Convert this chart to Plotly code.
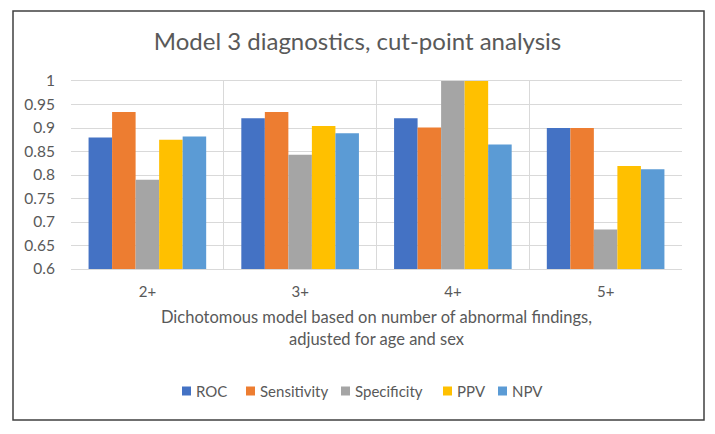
import plotly.graph_objects as go

categories = ["2+", "3+", "4+", "5+"]
roc = [0.880, 0.921, 0.921, 0.900]
sensitivity = [0.934, 0.934, 0.901, 0.900]
specificity = [0.790, 0.843, 1.000, 0.684]
ppv = [0.875, 0.904, 1.000, 0.819]
npv = [0.882, 0.889, 0.865, 0.812]
y_ticks = [0.6, 0.65, 0.7, 0.75, 0.8, 0.85, 0.9, 0.95, 1]
y_tick_labels = ["0.6", "0.65", "0.7", "0.75", "0.8", "0.85", "0.9", "0.95", "1"]

series_names = ["ROC", "Sensitivity", "Specificity", "PPV", "NPV"]
series_values = [roc, sensitivity, specificity, ppv, npv]
series_colors = ["#4472C4", "#ED7D31", "#A5A5A5", "#FFC000", "#5B9BD5"]

FONT = "Lato, Open Sans, sans-serif"
GRAY = "#595959"
# plot-area geometry in pixels (for layout helpers)
L, R, T, B = 71, 682, 81, 269
PW, PH = R - L, B - T


def px_x(px):
    return (px - L) / PW


def px_y(py):
    return (B - py) / PH


fig = go.Figure()
for name, vals, color in zip(series_names, series_values, series_colors):
    fig.add_trace(go.Bar(name=name, x=categories, y=vals, showlegend=False,
                         marker=dict(color=color, line=dict(width=0))))

# manual legend (Excel-style: small square then label)
legend_left_px = [182, 246, 341, 443, 498]
legend_y_px = 391
shapes = [dict(type="rect", xref="paper", yref="paper",
               x0=px_x(13), x1=px_x(704), y0=px_y(420), y1=px_y(11),
               line=dict(color="#404040", width=1.5), fillcolor="rgba(0,0,0,0)", layer="below")]
annotations = []
for name, color, lx in zip(series_names, series_colors, legend_left_px):
    shapes.append(dict(type="rect", xref="paper", yref="paper",
                       x0=px_x(lx), x1=px_x(lx + 9), y0=px_y(legend_y_px + 4.5), y1=px_y(legend_y_px - 4.5),
                       line=dict(width=0), fillcolor=color))
    annotations.append(dict(text=name, xref="paper", yref="paper", x=px_x(lx + 12), y=px_y(legend_y_px),
                            xanchor="left", yanchor="middle", showarrow=False,
                            font=dict(size=15, color=GRAY, family=FONT)))

fig.update_layout(
    width=715, height=434,
    barmode="group", bargap=0.23, bargroupgap=0,
    paper_bgcolor="white", plot_bgcolor="white",
    margin=dict(l=L, r=715 - R, t=T, b=434 - B, autoexpand=False),
    font=dict(family=FONT, color=GRAY, size=15),
    showlegend=False,
    title=dict(text="Model 3 diagnostics, cut-point analysis", x=0.5, xanchor="center",
               y=1 - 42 / 434, yanchor="middle", font=dict(size=24, color=GRAY, family=FONT)),
    xaxis=dict(
        automargin=False,
        tickson="boundaries", showgrid=True, gridcolor="#D9D9D9", gridwidth=1,
        showline=True, linecolor="#D9D9D9", linewidth=1, mirror=True,
        ticks="", tickfont=dict(size=15, color=GRAY), ticklabelstandoff=9,
        title=dict(text="Dichotomous model based on number of abnormal findings,<br>adjusted for age and sex",
                   font=dict(size=16.5, color=GRAY), standoff=12),
    ),
    yaxis=dict(
        automargin=False,
        range=[0.6, 1], tickvals=y_ticks, ticktext=y_tick_labels,
        showgrid=True, gridcolor="#D9D9D9", gridwidth=1, zeroline=False,
        showline=False, ticks="", tickfont=dict(size=15.5, color=GRAY), ticklabelstandoff=15,
    ),
    shapes=shapes,
    annotations=annotations,
)

fig.write_html("out.html", config={"displayModeBar": False},
               post_script="document.body.style.margin='0';")
